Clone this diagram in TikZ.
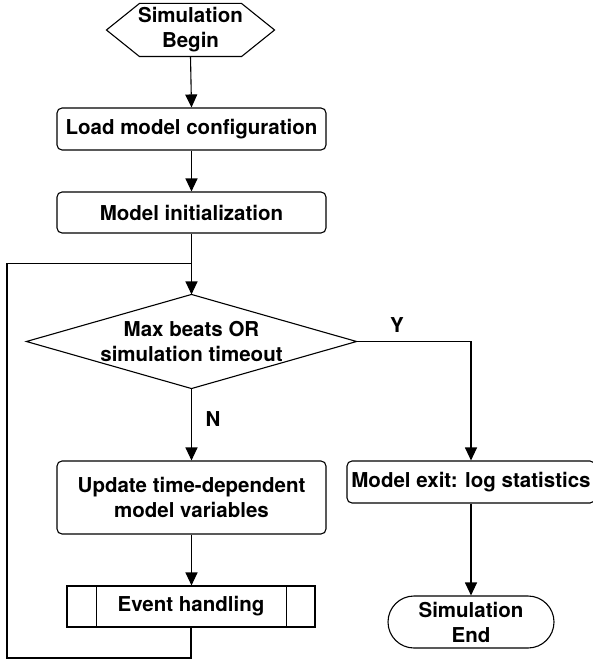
\documentclass[tikz,border=0pt]{standalone}
\usepackage{fontspec}
\setmainfont{TeX Gyre Heros}
\usetikzlibrary{arrows.meta}

\begin{document}
\begin{tikzpicture}[x=1pt, y=1pt, line width=1.1pt,
  every node/.style={font=\fontsize{20.5}{25}\selectfont\bfseries, align=center, inner sep=0pt},
  box/.style={draw, rounded corners=5pt, minimum width=269pt},
  flow/.style={-{Triangle[length=13pt,width=12pt]}}]

  \useasboundingbox (0,0) rectangle (593,-661);

  % start terminal (hexagon drawn around an invisible node)
  \node (begin) [minimum width=167pt, minimum height=52pt] at (190.5,-30) {Simulation\\Begin};
  \draw ([xshift=33pt]begin.north west) -- ([xshift=-33pt]begin.north east) -- (begin.east)
     -- ([xshift=-33pt]begin.south east) -- ([xshift=33pt]begin.south west) -- (begin.west) -- cycle;

  % process steps
  \node (load) [box, minimum height=42pt] at (191.5,-129) {Load model configuration};
  \node (init) [box, minimum height=41pt] at (191.5,-212.5) {Model initialization};

  % decision (diamond drawn through the anchors of an invisible node)
  \node (dec) [minimum width=329pt, minimum height=93pt] at (191.5,-341.5) {Max beats OR\\simulation timeout};
  \draw (dec.north) -- (dec.east) -- (dec.south) -- (dec.west) -- cycle;

  \node (upd) [box, minimum height=73pt] at (191.5,-497.5) {Update time-dependent\\model variables};

  % predefined process
  \node (event) [draw, minimum width=248pt, minimum height=41pt] at (191,-606.5) {Event handling};
  \draw ([xshift=30pt]event.north west) -- ([xshift=30pt]event.south west);
  \draw ([xshift=-29pt]event.north east) -- ([xshift=-29pt]event.south east);

  \node (exit) [box, minimum width=248pt, minimum height=42pt] at (471,-482) {Model exit: log statistics};
  \node (end) [draw, rounded corners=26pt, minimum width=166pt, minimum height=52pt] at (471,-622) {Simulation\\End};

  % branch labels
  \node (ylab) at (397,-325) {Y};
  \node (nlab) at (213,-419) {N};

  % loop return path
  \coordinate (lb) at (7,-658);
  \coordinate (lt) at (7,-263.5);
  \coordinate (join) at (191.5,-263.5);

  % connectors
  \draw[flow] (begin.south) -- (load.north);
  \draw[flow] (load.south) -- (init.north);
  \draw[flow] (init.south) -- (dec.north);
  \draw[flow] (dec.south) -- (upd.north);
  \draw[flow] (upd.south) -- (upd.south |- event.north);
  \draw[flow] (dec.east) -| (exit.north);
  \draw[flow] (exit.south) -- (end.north);
  \draw (event.south) |- (lb) -- (lt) -- (join);
\end{tikzpicture}
\end{document}
